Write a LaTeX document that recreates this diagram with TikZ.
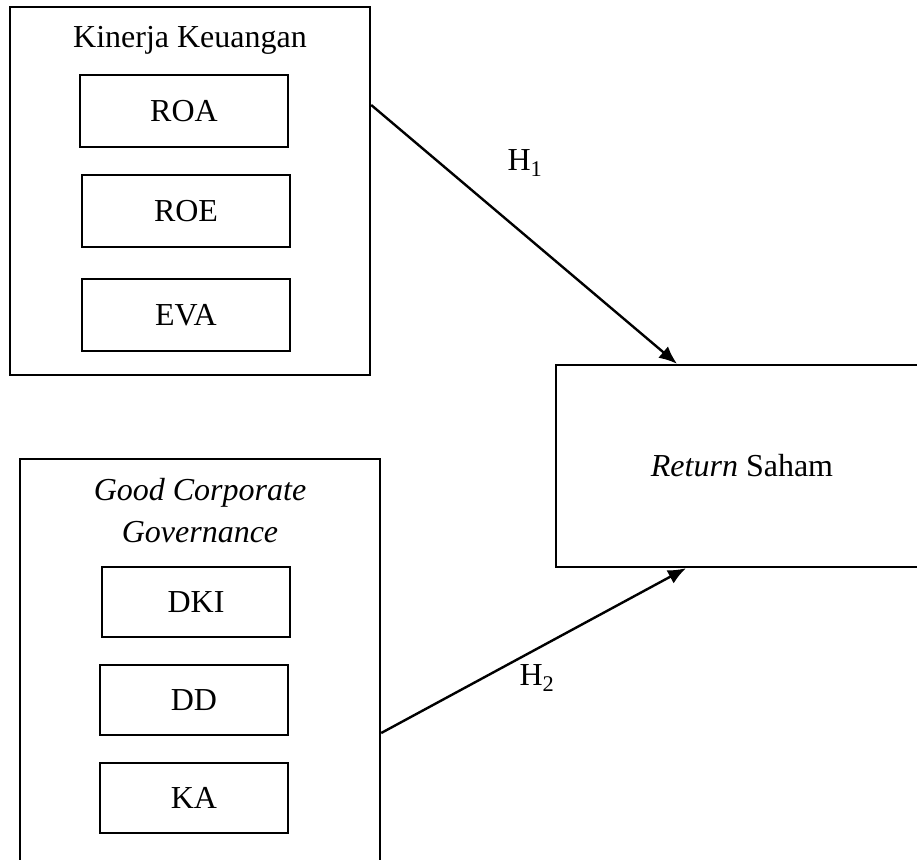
\documentclass[tikz,border=0pt]{standalone}
\usepackage{fontspec}
\setmainfont{Liberation Serif}
\usetikzlibrary{arrows.meta, positioning}

\begin{document}
\begin{tikzpicture}[
    x=1pt, y=-1pt,
    every node/.style={font=\fontsize{32}{42}\selectfont, inner sep=0pt},
    frame/.style={draw, line width=2.4pt},
    item/.style={draw, line width=2.4pt, minimum height=72pt},
    link/.style={line width=2.4pt, -{Latex[length=18pt, width=15pt]}}
  ]
    \useasboundingbox (0, 0) rectangle (917, 859);

    % Kinerja Keuangan
    \node[frame, minimum width=360pt, minimum height=368pt] (kinerja) at (190, 191) {};
    \node (kinerjaT) at (190, 40) {Kinerja Keuangan};
    \node[item, minimum width=208pt] (roa) at (184, 111) {ROA};
    \node[item, minimum width=208pt] (roe) at (186, 211) {ROE};
    \node[item, minimum width=208pt] (eva) at (186, 315) {EVA};

    % Good Corporate Governance
    \node[frame, minimum width=360pt, minimum height=421pt] (gcg) at (200, 669.5) {};
    \node[align=center, font=\fontsize{32}{42}\selectfont\itshape] (gcgT) at (200, 511) {Good Corporate\\Governance};
    \node[item, minimum width=188pt, minimum height=70pt] (dki) at (196, 602) {DKI};
    \node[item, minimum width=188pt, minimum height=70pt] (dd) at (194, 700) {DD};
    \node[item, minimum width=188pt, minimum height=70pt] (ka) at (194, 798) {KA};

    % Return Saham
    \node[frame, minimum width=372pt, minimum height=202pt] (saham) at (742, 466) {\textit{Return} Saham};

    \coordinate (h1s) at (kinerja.east |- 0, 105);
    \coordinate (h1e) at (saham.north -| 677, 0);
    \coordinate (h2s) at (gcg.east |- 0, 733);
    \coordinate (h2e) at (saham.south -| 686, 0);

    \draw[link] (h1s) -- (h1e);
    \draw[link] (h2s) -- (h2e);
    \node (h1) at (525, 163) {H\textsubscript{1}};
    \node (h2) at (537, 678) {H\textsubscript{2}};
  \end{tikzpicture}
\end{document}
